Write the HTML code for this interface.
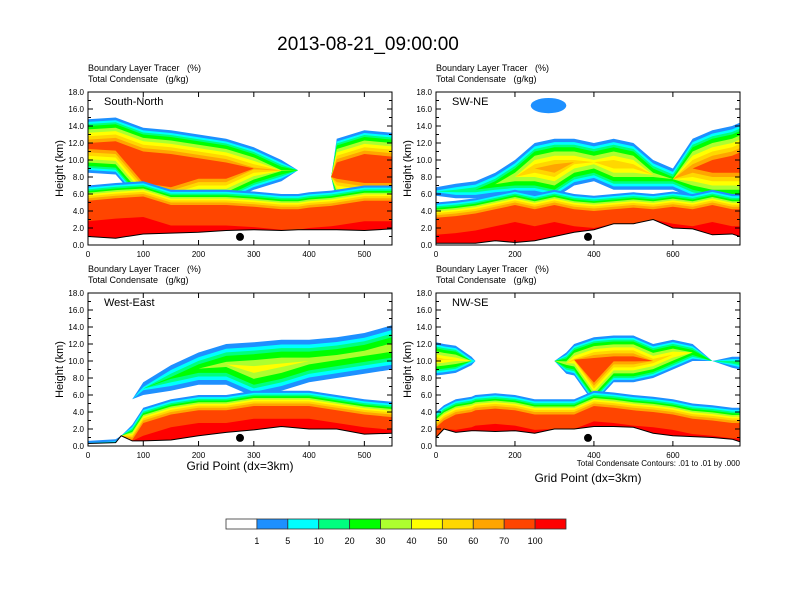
<!DOCTYPE html>
<html><head><meta charset="utf-8"><style>
body{margin:0;background:#fff;}
svg{display:block;font-family:"Liberation Sans",sans-serif;}
text{white-space:pre;}
</style></head><body>
<svg id="fig" width="792" height="612" viewBox="0 0 792 612">
<text x="368" y="50" font-size="19" text-anchor="middle">2013-08-21_09:00:00</text>
<g id="panels"></g>
<g id="colorbar"></g>
</svg>
<script>
// ---- data (km heights, grid-point x) ----
const p1X = [0,50,100,150,200,250,300,350,380,400,440,450,500,550];
const p1Ground = [1.0,0.8,1.3,1.4,1.5,1.7,1.8,1.7,1.8,1.8,1.8,1.8,1.7,1.9];
const p1LowTop = [7.0,7.3,7.5,6.5,6.5,6.5,6.3,6.0,6.0,6.2,6.4,6.5,7.0,7.0];
const p1CloudBot = [8.5,8.3,4.5,4.0,5.0,5.0,6.5,7.5,8.8,8.0,8.0,5.0,4.5,4.5];
const p1CloudTop = [14.8,15.0,13.8,13.5,13.0,12.5,11.5,10.0,8.8,8.0,8.0,12.5,13.5,13.2];

const p2X = [0,50,100,150,200,250,300,350,400,450,500,550,600,650,700,750,770];
const p2Ground = [0.2,0.2,0.2,0.5,0.3,0.5,1.0,1.5,1.8,2.5,2.5,3.0,2.0,1.9,1.2,1.3,1.0];
const p2LowTop = [5.0,5.2,5.5,6.0,6.5,6.0,6.5,6.0,5.8,6.0,6.2,6.0,6.3,6.0,6.5,6.0,6.0];
const p2CloudBot = [5.8,5.5,5.5,5.8,6.0,6.0,5.5,7.0,7.5,6.5,6.5,6.5,6.5,5.5,5.0,5.0,5.0];
const p2CloudTop = [6.8,7.2,7.5,8.5,10.0,12.0,12.5,12.5,12.0,12.5,12.0,10.0,9.0,12.5,13.5,14.0,14.4];

const p3X = [0,50,60,80,100,150,200,250,300,350,400,450,500,550];
const p3Ground = [0.3,0.4,1.2,0.6,0.6,0.7,1.2,1.6,1.9,2.3,2.0,2.0,1.4,1.5];
const p3LowTop = [0.6,0.8,1.2,2.5,4.5,5.5,6.0,6.0,6.5,6.5,6.5,6.0,5.5,5.2];
const p3CloudBot = [5.5,5.5,5.5,5.5,6.0,6.5,7.2,7.2,5.8,6.5,7.5,8.0,8.5,9.0];
const p3CloudTop = [5.5,5.5,5.5,5.5,7.5,9.5,11.0,12.0,12.2,12.5,12.5,12.8,13.3,14.2];

const p4X = [0,20,50,90,100,150,200,250,300,330,350,400,450,500,550,600,650,700,750,770];
const p4Ground = [1.0,2.0,1.6,1.8,1.8,1.7,1.8,1.5,2.0,2.0,2.0,2.3,2.3,2.2,1.5,1.2,1.1,1.0,0.8,0.5];
const p4LowTop = [4.0,4.8,5.5,5.8,6.0,6.2,6.0,5.5,5.5,5.5,5.5,6.5,6.3,6.0,5.8,5.5,5.0,4.8,4.5,4.5];
const p4CloudBot = [8.3,8.4,8.6,9.5,10.0,10.0,10.0,10.0,10.0,8.5,8.3,5.0,7.5,7.5,8.0,9.0,10.0,10.0,9.2,9.0];
const p4CloudTop = [12.2,12.0,11.8,10.5,10.0,10.0,10.0,10.0,10.0,11.0,12.0,12.8,13.0,13.0,12.0,12.5,12.0,10.0,10.5,10.5];

const yTicks = [0,2,4,6,8,10,12,14,16,18];
const xTicksShort = [0,100,200,300,400,500];
const xTicksLong = [0,200,400,600];
const cbLabels = ["1","5","10","20","30","40","50","60","70","100"];
const cbColors = ["#ffffff","#1e90ff","#00ffff","#00ff7f","#00ff00","#adff2f","#ffff00","#ffd700","#ffa500","#ff4500","#ff0000"];
const dotX = [275,385,275,385];

const NS="http://www.w3.org/2000/svg";
function mk(tag, attrs, parent){const e=document.createElementNS(NS,tag);for(const k in attrs)e.setAttribute(k,attrs[k]);parent.appendChild(e);return e;}

const panels=[
 {name:"south-north",label:"South-North",x0:88,y0:92,w:304,h:153,xmax:550,X:p1X,G:p1Ground,L:p1LowTop,CB:p1CloudBot,CT:p1CloudTop,ticks:xTicksShort,scale:0.8,red:4.2,xtitle:false,dot:dotX[0]},
 {name:"sw-ne",label:"SW-NE",x0:436,y0:92,w:304,h:153,xmax:770,X:p2X,G:p2Ground,L:p2LowTop,CB:p2CloudBot,CT:p2CloudTop,ticks:xTicksLong,scale:1.0,red:3.8,xtitle:false,dot:dotX[1],blob:[285,16.4,45,0.9]},
 {name:"west-east",label:"West-East",x0:88,y0:293,w:304,h:153,xmax:550,X:p3X,G:p3Ground,L:p3LowTop,CB:p3CloudBot,CT:p3CloudTop,ticks:xTicksShort,scale:1.4,red:3.3,xtitle:true,dot:dotX[2]},
 {name:"nw-se",label:"NW-SE",x0:436,y0:293,w:304,h:153,xmax:770,X:p4X,G:p4Ground,L:p4LowTop,CB:p4CloudBot,CT:p4CloudTop,ticks:xTicksLong,scale:0.7,red:3.6,xtitle:true,dot:dotX[3],note:true}
];
const lowColors=["#1e90ff","#00ffff","#00ff7f","#00ff00","#adff2f","#ffff00","#ffd700","#ffa500","#ff4500","#ff0000"];
const lowOff=[0,0.25,0.45,0.65,0.85,1.05,1.25,1.5,1.8];
const cloudOff=[0,0.4,0.7,1.0,1.5,2.0,2.5,3.0,3.5];

const root=document.getElementById('panels');
panels.forEach((p,pi)=>{
  const g=mk('g',{},root);
  
  
  const sx=v=>p.x0+v/p.xmax*p.w, sy=z=>p.y0+p.h-z/18*p.h;
  const cp=mk('clipPath',{id:'clip'+pi},g);
  mk('rect',{x:p.x0,y:p.y0,width:p.w,height:p.h},cp);
  const plot=mk('g',{'clip-path':'url(#clip'+pi+')'},g);
  cloudOff.forEach((d0,i)=>{
    const d=d0*p.scale;
    let top=[],bot=[];
    p.X.forEach((x,j)=>{let t=p.CT[j]-d,b=p.CB[j]+d;if(t<b){const m=(p.CT[j]+p.CB[j])/2;t=m;b=m;}top.push(sx(x)+','+sy(t));bot.unshift(sx(x)+','+sy(b));});
    const poly=mk('polygon',{points:top.concat(bot).join(' '),fill:lowColors[i],'stroke-linejoin':'round'},plot);
    
    
  });
  if(p.blob){const e=mk('ellipse',{cx:sx(p.blob[0]),cy:sy(p.blob[1]),rx:p.blob[2]/p.xmax*p.w,ry:p.blob[3]/18*p.h,fill:"#1e90ff"},plot);
    
    }
  lowOff.concat([p.red]).forEach((d,i)=>{
    let top=[],bot=[];
    p.X.forEach((x,j)=>{const t=Math.max(p.G[j],p.L[j]-d);top.push(sx(x)+','+sy(t));bot.unshift(sx(x)+','+sy(p.G[j]));});
    const poly=mk('polygon',{points:top.concat(bot).join(' '),fill:lowColors[i]},plot);
    
    
  });
  let gp=p.X.map((x,j)=>sx(x)+','+sy(p.G[j]));
  const under=mk('polygon',{points:gp.concat([sx(p.xmax)+','+sy(0),sx(0)+','+sy(0)]).join(' '),fill:'#fff'},plot);
  
  
  const tl=mk('polyline',{points:gp.join(' '),fill:'none',stroke:'#000','stroke-width':1},plot);
  
  
  const dot=mk('circle',{cx:sx(p.dot),cy:sy(0.95),r:4,fill:'#000'},g);
  
  
  const fr=mk('rect',{x:p.x0,y:p.y0,width:p.w,height:p.h,fill:'none',stroke:'#000','stroke-width':1},g);
  
  
  yTicks.forEach(v=>{
    const y=sy(v);
    mk('line',{x1:p.x0,x2:p.x0+5,y1:y,y2:y,stroke:'#000'},g);
    mk('line',{x1:p.x0+p.w,x2:p.x0+p.w-5,y1:y,y2:y,stroke:'#000'},g);
    if(v<18){const y2=sy(v+1);mk('line',{x1:p.x0,x2:p.x0+3,y1:y2,y2:y2,stroke:'#000'},g);mk('line',{x1:p.x0+p.w,x2:p.x0+p.w-3,y1:y2,y2:y2,stroke:'#000'},g);}
    const t=mk('text',{x:p.x0-4,y:y+3,'font-size':8,'text-anchor':'end'},g);t.textContent=v.toFixed(1);
    
    
  });
  p.ticks.forEach(v=>{
    const x=sx(v);
    mk('line',{x1:x,x2:x,y1:p.y0+p.h,y2:p.y0+p.h-5,stroke:'#000'},g);
    mk('line',{x1:x,x2:x,y1:p.y0,y2:p.y0+5,stroke:'#000'},g);
    const t=mk('text',{x:x,y:p.y0+p.h+12,'font-size':8,'text-anchor':'middle'},g);t.textContent=v;
    
    
  });
  const yt=mk('text',{x:0,y:0,'font-size':11,'text-anchor':'middle',transform:`translate(${p.x0-25},${p.y0+p.h/2}) rotate(-90)`},g);yt.textContent='Height (km)';
  
  
  const lb=mk('text',{x:p.x0+16,y:p.y0+13,'font-size':11},g);lb.textContent=p.label;
  
  
  const h1=mk('text',{x:p.x0,y:p.y0-21,'font-size':9},g);h1.textContent='Boundary Layer Tracer   (%)';
  
  
  const h2=mk('text',{x:p.x0,y:p.y0-10,'font-size':9},g);h2.textContent='Total Condensate   (g/kg)';
  
  
  if(p.xtitle){const xt=mk('text',{x:p.x0+p.w/2,y:p.note?482:470,'font-size':12,'text-anchor':'middle'},g);xt.textContent='Grid Point (dx=3km)';
    
    }
  if(p.note){const nt=mk('text',{x:p.x0+p.w,y:p.y0+p.h+20,'font-size':8,'text-anchor':'end'},g);nt.textContent='Total Condensate Contours: .01 to .01 by .000';
    
    }
});
const cb=document.getElementById('colorbar');
const cbx=226,cby=519,cbw=340/cbColors.length,cbh=10;
cbColors.forEach((c,i)=>{
  const r=mk('rect',{x:cbx+i*cbw,y:cby,width:cbw,height:cbh,fill:c,stroke:'#333','stroke-width':0.8},cb);
  
  
});
cbLabels.forEach((l,i)=>{
  const t=mk('text',{x:cbx+(i+1)*cbw,y:544,'font-size':9,'text-anchor':'middle'},cb);t.textContent=l;
  
  
});
</script>
</body></html>
